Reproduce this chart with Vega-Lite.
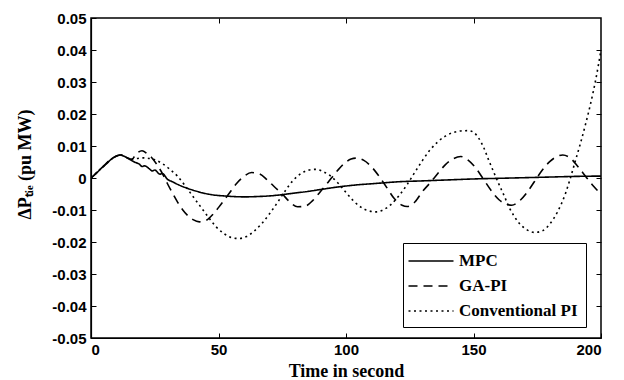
{
  "$schema": "https://vega.github.io/schema/vega-lite/v6.json",
  "width": 510,
  "height": 320,
  "autosize": "none",
  "padding": {"left": 91, "top": 18, "right": 23, "bottom": 42},
  "background": "white",
  "config": {
    "view": {"stroke": "black", "strokeWidth": 1.5},
    "axis": {
      "grid": false,
      "domainColor": "black",
      "domainWidth": 1.2,
      "tickColor": "black",
      "tickWidth": 1,
      "labelFont": "'Liberation Sans'",
      "labelFontWeight": "bold",
      "labelFontSize": 15,
      "labelColor": "black",
      "titleFont": "'Liberation Serif'",
      "titleFontWeight": "bold",
      "titleFontSize": 18,
      "titleColor": "black"
    },
    "legend": {
      "labelFont": "'Liberation Serif'",
      "labelFontWeight": "bold",
      "labelFontSize": 17,
      "labelColor": "black"
    }
  },
  "data": {
    "values": [
      {"t": 0, "v": 0, "s": "MPC"},
      {"t": 2, "v": 0.0014, "s": "MPC"},
      {"t": 4, "v": 0.003, "s": "MPC"},
      {"t": 6, "v": 0.0044, "s": "MPC"},
      {"t": 8, "v": 0.0059, "s": "MPC"},
      {"t": 10, "v": 0.0069, "s": "MPC"},
      {"t": 11.5, "v": 0.0072, "s": "MPC"},
      {"t": 13, "v": 0.0068, "s": "MPC"},
      {"t": 15, "v": 0.0059, "s": "MPC"},
      {"t": 17, "v": 0.005, "s": "MPC"},
      {"t": 19, "v": 0.0043, "s": "MPC"},
      {"t": 20, "v": 0.0036, "s": "MPC"},
      {"t": 21, "v": 0.0038, "s": "MPC"},
      {"t": 23, "v": 0.0028, "s": "MPC"},
      {"t": 24, "v": 0.0022, "s": "MPC"},
      {"t": 25, "v": 0.0025, "s": "MPC"},
      {"t": 27, "v": 0.0012, "s": "MPC"},
      {"t": 28, "v": 0.0014, "s": "MPC"},
      {"t": 30, "v": -0.0004, "s": "MPC"},
      {"t": 32, "v": -0.0012, "s": "MPC"},
      {"t": 34, "v": -0.002, "s": "MPC"},
      {"t": 37, "v": -0.003, "s": "MPC"},
      {"t": 40, "v": -0.0038, "s": "MPC"},
      {"t": 44, "v": -0.0047, "s": "MPC"},
      {"t": 48, "v": -0.0053, "s": "MPC"},
      {"t": 52, "v": -0.0056, "s": "MPC"},
      {"t": 56, "v": -0.0058, "s": "MPC"},
      {"t": 60, "v": -0.0059, "s": "MPC"},
      {"t": 65, "v": -0.0058, "s": "MPC"},
      {"t": 70, "v": -0.0056, "s": "MPC"},
      {"t": 75, "v": -0.0052, "s": "MPC"},
      {"t": 80, "v": -0.0047, "s": "MPC"},
      {"t": 85, "v": -0.0042, "s": "MPC"},
      {"t": 90, "v": -0.0036, "s": "MPC"},
      {"t": 95, "v": -0.003, "s": "MPC"},
      {"t": 100, "v": -0.0025, "s": "MPC"},
      {"t": 105, "v": -0.0021, "s": "MPC"},
      {"t": 110, "v": -0.0018, "s": "MPC"},
      {"t": 115, "v": -0.0015, "s": "MPC"},
      {"t": 120, "v": -0.0012, "s": "MPC"},
      {"t": 130, "v": -0.0009, "s": "MPC"},
      {"t": 140, "v": -0.0006, "s": "MPC"},
      {"t": 150, "v": -0.0003, "s": "MPC"},
      {"t": 160, "v": -0.0001, "s": "MPC"},
      {"t": 170, "v": 0.0001, "s": "MPC"},
      {"t": 180, "v": 0.0003, "s": "MPC"},
      {"t": 190, "v": 0.0005, "s": "MPC"},
      {"t": 200, "v": 0.0006, "s": "MPC"},

      {"t": 0, "v": 0, "s": "GA-PI"},
      {"t": 4, "v": 0.003, "s": "GA-PI"},
      {"t": 8, "v": 0.0059, "s": "GA-PI"},
      {"t": 11.5, "v": 0.0072, "s": "GA-PI"},
      {"t": 14, "v": 0.0064, "s": "GA-PI"},
      {"t": 16, "v": 0.0058, "s": "GA-PI"},
      {"t": 17.5, "v": 0.0073, "s": "GA-PI"},
      {"t": 20, "v": 0.0085, "s": "GA-PI"},
      {"t": 22, "v": 0.0076, "s": "GA-PI"},
      {"t": 24, "v": 0.0062, "s": "GA-PI"},
      {"t": 26, "v": 0.004, "s": "GA-PI"},
      {"t": 28, "v": 0.0014, "s": "GA-PI"},
      {"t": 30, "v": -0.0018, "s": "GA-PI"},
      {"t": 32, "v": -0.0048, "s": "GA-PI"},
      {"t": 34, "v": -0.0076, "s": "GA-PI"},
      {"t": 36, "v": -0.01, "s": "GA-PI"},
      {"t": 38, "v": -0.0118, "s": "GA-PI"},
      {"t": 40, "v": -0.013, "s": "GA-PI"},
      {"t": 42.5, "v": -0.0137, "s": "GA-PI"},
      {"t": 45, "v": -0.0133, "s": "GA-PI"},
      {"t": 48, "v": -0.0112, "s": "GA-PI"},
      {"t": 51, "v": -0.0082, "s": "GA-PI"},
      {"t": 54, "v": -0.005, "s": "GA-PI"},
      {"t": 57, "v": -0.0018, "s": "GA-PI"},
      {"t": 60, "v": 0.0005, "s": "GA-PI"},
      {"t": 63, "v": 0.0017, "s": "GA-PI"},
      {"t": 66, "v": 0.0013, "s": "GA-PI"},
      {"t": 69, "v": -0.0005, "s": "GA-PI"},
      {"t": 72, "v": -0.0028, "s": "GA-PI"},
      {"t": 75, "v": -0.005, "s": "GA-PI"},
      {"t": 78, "v": -0.0075, "s": "GA-PI"},
      {"t": 81, "v": -0.009, "s": "GA-PI"},
      {"t": 84, "v": -0.0088, "s": "GA-PI"},
      {"t": 87, "v": -0.007, "s": "GA-PI"},
      {"t": 90, "v": -0.0042, "s": "GA-PI"},
      {"t": 93, "v": -0.0013, "s": "GA-PI"},
      {"t": 96, "v": 0.0017, "s": "GA-PI"},
      {"t": 99, "v": 0.0043, "s": "GA-PI"},
      {"t": 102, "v": 0.0059, "s": "GA-PI"},
      {"t": 104, "v": 0.0062, "s": "GA-PI"},
      {"t": 107, "v": 0.0055, "s": "GA-PI"},
      {"t": 110, "v": 0.0035, "s": "GA-PI"},
      {"t": 113, "v": 0.0005, "s": "GA-PI"},
      {"t": 116, "v": -0.003, "s": "GA-PI"},
      {"t": 119, "v": -0.0065, "s": "GA-PI"},
      {"t": 122, "v": -0.0085, "s": "GA-PI"},
      {"t": 124, "v": -0.0089, "s": "GA-PI"},
      {"t": 127, "v": -0.0075, "s": "GA-PI"},
      {"t": 130, "v": -0.0042, "s": "GA-PI"},
      {"t": 133, "v": -0.0015, "s": "GA-PI"},
      {"t": 136, "v": 0.0014, "s": "GA-PI"},
      {"t": 139, "v": 0.0042, "s": "GA-PI"},
      {"t": 142, "v": 0.006, "s": "GA-PI"},
      {"t": 145, "v": 0.0067, "s": "GA-PI"},
      {"t": 148, "v": 0.0055, "s": "GA-PI"},
      {"t": 151, "v": 0.003, "s": "GA-PI"},
      {"t": 154, "v": -0.0005, "s": "GA-PI"},
      {"t": 157, "v": -0.004, "s": "GA-PI"},
      {"t": 160, "v": -0.0068, "s": "GA-PI"},
      {"t": 163, "v": -0.0082, "s": "GA-PI"},
      {"t": 165, "v": -0.0085, "s": "GA-PI"},
      {"t": 168, "v": -0.0072, "s": "GA-PI"},
      {"t": 171, "v": -0.0045, "s": "GA-PI"},
      {"t": 174, "v": -0.001, "s": "GA-PI"},
      {"t": 177, "v": 0.0025, "s": "GA-PI"},
      {"t": 180, "v": 0.0052, "s": "GA-PI"},
      {"t": 183, "v": 0.0068, "s": "GA-PI"},
      {"t": 185, "v": 0.0072, "s": "GA-PI"},
      {"t": 188, "v": 0.0062, "s": "GA-PI"},
      {"t": 191, "v": 0.0035, "s": "GA-PI"},
      {"t": 194, "v": 0.0005, "s": "GA-PI"},
      {"t": 197, "v": -0.0025, "s": "GA-PI"},
      {"t": 200, "v": -0.005, "s": "GA-PI"},

      {"t": 0, "v": 0, "s": "Conventional PI"},
      {"t": 4, "v": 0.003, "s": "Conventional PI"},
      {"t": 8, "v": 0.0059, "s": "Conventional PI"},
      {"t": 11.5, "v": 0.0072, "s": "Conventional PI"},
      {"t": 14, "v": 0.0064, "s": "Conventional PI"},
      {"t": 16, "v": 0.006, "s": "Conventional PI"},
      {"t": 18, "v": 0.0061, "s": "Conventional PI"},
      {"t": 20, "v": 0.0063, "s": "Conventional PI"},
      {"t": 22, "v": 0.0062, "s": "Conventional PI"},
      {"t": 25, "v": 0.0057, "s": "Conventional PI"},
      {"t": 28, "v": 0.0045, "s": "Conventional PI"},
      {"t": 31, "v": 0.0027, "s": "Conventional PI"},
      {"t": 34, "v": 0.0005, "s": "Conventional PI"},
      {"t": 37, "v": -0.0025, "s": "Conventional PI"},
      {"t": 40, "v": -0.0058, "s": "Conventional PI"},
      {"t": 43, "v": -0.009, "s": "Conventional PI"},
      {"t": 46, "v": -0.0122, "s": "Conventional PI"},
      {"t": 49, "v": -0.0152, "s": "Conventional PI"},
      {"t": 52, "v": -0.0173, "s": "Conventional PI"},
      {"t": 55, "v": -0.0186, "s": "Conventional PI"},
      {"t": 58, "v": -0.0189, "s": "Conventional PI"},
      {"t": 61, "v": -0.0183, "s": "Conventional PI"},
      {"t": 64, "v": -0.0166, "s": "Conventional PI"},
      {"t": 67, "v": -0.0142, "s": "Conventional PI"},
      {"t": 70, "v": -0.0112, "s": "Conventional PI"},
      {"t": 73, "v": -0.0078, "s": "Conventional PI"},
      {"t": 76, "v": -0.0042, "s": "Conventional PI"},
      {"t": 79, "v": -0.001, "s": "Conventional PI"},
      {"t": 82, "v": 0.0012, "s": "Conventional PI"},
      {"t": 85, "v": 0.0024, "s": "Conventional PI"},
      {"t": 88, "v": 0.0027, "s": "Conventional PI"},
      {"t": 91, "v": 0.002, "s": "Conventional PI"},
      {"t": 94, "v": 0.0006, "s": "Conventional PI"},
      {"t": 97, "v": -0.0017, "s": "Conventional PI"},
      {"t": 100, "v": -0.0045, "s": "Conventional PI"},
      {"t": 103, "v": -0.0072, "s": "Conventional PI"},
      {"t": 106, "v": -0.0092, "s": "Conventional PI"},
      {"t": 109, "v": -0.0103, "s": "Conventional PI"},
      {"t": 112, "v": -0.0106, "s": "Conventional PI"},
      {"t": 115, "v": -0.0098, "s": "Conventional PI"},
      {"t": 118, "v": -0.008, "s": "Conventional PI"},
      {"t": 121, "v": -0.0053, "s": "Conventional PI"},
      {"t": 124, "v": -0.002, "s": "Conventional PI"},
      {"t": 127, "v": 0.0018, "s": "Conventional PI"},
      {"t": 130, "v": 0.0055, "s": "Conventional PI"},
      {"t": 133, "v": 0.0088, "s": "Conventional PI"},
      {"t": 136, "v": 0.0113, "s": "Conventional PI"},
      {"t": 139, "v": 0.0131, "s": "Conventional PI"},
      {"t": 142, "v": 0.0142, "s": "Conventional PI"},
      {"t": 145, "v": 0.0147, "s": "Conventional PI"},
      {"t": 148, "v": 0.0148, "s": "Conventional PI"},
      {"t": 150, "v": 0.0143, "s": "Conventional PI"},
      {"t": 152, "v": 0.0125, "s": "Conventional PI"},
      {"t": 154, "v": 0.0095, "s": "Conventional PI"},
      {"t": 156, "v": 0.0055, "s": "Conventional PI"},
      {"t": 158, "v": 0.0017, "s": "Conventional PI"},
      {"t": 160, "v": -0.002, "s": "Conventional PI"},
      {"t": 162, "v": -0.0055, "s": "Conventional PI"},
      {"t": 164, "v": -0.0092, "s": "Conventional PI"},
      {"t": 166, "v": -0.012, "s": "Conventional PI"},
      {"t": 168, "v": -0.0142, "s": "Conventional PI"},
      {"t": 171, "v": -0.0162, "s": "Conventional PI"},
      {"t": 174, "v": -0.017, "s": "Conventional PI"},
      {"t": 177, "v": -0.0165, "s": "Conventional PI"},
      {"t": 180, "v": -0.0143, "s": "Conventional PI"},
      {"t": 183, "v": -0.0105, "s": "Conventional PI"},
      {"t": 186, "v": -0.005, "s": "Conventional PI"},
      {"t": 188, "v": 0.0, "s": "Conventional PI"},
      {"t": 190, "v": 0.0055, "s": "Conventional PI"},
      {"t": 192, "v": 0.011, "s": "Conventional PI"},
      {"t": 194, "v": 0.017, "s": "Conventional PI"},
      {"t": 196, "v": 0.0235, "s": "Conventional PI"},
      {"t": 198, "v": 0.031, "s": "Conventional PI"},
      {"t": 200, "v": 0.04, "s": "Conventional PI"}
    ]
  },
  "layer": [
    {
      "mark": {"type": "line", "color": "black", "strokeWidth": 1.6, "interpolate": "monotone", "clip": true},
      "encoding": {
        "x": {
          "field": "t", "type": "quantitative",
          "scale": {"domain": [0, 200], "nice": false, "zero": false},
          "axis": {
            "orient": "bottom",
            "values": [0, 50, 100, 150, 200],
            "tickSize": -5,
            "labelPadding": 9,
            "title": "Time in second",
            "titleY": 38,
            "titleBaseline": "alphabetic"
          }
        },
        "y": {
          "field": "v", "type": "quantitative",
          "scale": {"domain": [-0.05, 0.05], "nice": false, "zero": false},
          "axis": {
            "orient": "left",
            "values": [-0.05, -0.04, -0.03, -0.02, -0.01, 0, 0.01, 0.02, 0.03, 0.04, 0.05],
            "tickSize": -5,
            "labelPadding": 10,
            "labelExpr": "datum.value == 0 ? '0' : replace(format(datum.value, '.2f'), '\u2212', '-')",
            "title": "\u0394P\u209c\u1d62\u2091 (pu MW)",
            "titleX": -66,
            "titleY": 146,
            "titleAngle": -90,
            "titleBaseline": "middle",
            "titleAlign": "center"
          }
        },
        "strokeDash": {
          "field": "s", "type": "nominal",
          "sort": ["MPC", "GA-PI", "Conventional PI"],
          "scale": {"domain": ["MPC", "GA-PI", "Conventional PI"], "range": [[1, 0], [9, 6], [2, 3.5]]},
          "legend": {
            "title": null,
            "orient": "none",
            "legendX": 312,
            "legendY": 225,
            "symbolType": "M-2.5,0H2.5",
            "symbolSize": 324,
            "symbolOffset": 10,
            "symbolStrokeColor": "black",
            "symbolStrokeWidth": 1.5,
            "strokeColor": "black",
            "fillColor": "white",
            "padding": 8,
            "rowPadding": 7,
            "labelOffset": 18,
            "labelLimit": 300
          }
        }
      }
    },
    {
      "mark": {"type": "point", "opacity": 0},
      "encoding": {
        "x": {
          "field": "t", "type": "quantitative",
          "scale": {"domain": [0, 200], "nice": false, "zero": false},
          "axis": {"orient": "top", "values": [50, 100, 150], "tickSize": -5, "labels": false, "title": null, "domain": false}
        },
        "y": {
          "field": "v", "type": "quantitative",
          "scale": {"domain": [-0.05, 0.05], "nice": false, "zero": false},
          "axis": {"orient": "right", "values": [-0.04, -0.03, -0.02, -0.01, 0, 0.01, 0.02, 0.03, 0.04], "tickSize": -5, "labels": false, "title": null, "domain": false}
        }
      }
    }
  ],
  "resolve": {"axis": {"x": "independent", "y": "independent"}}
}
